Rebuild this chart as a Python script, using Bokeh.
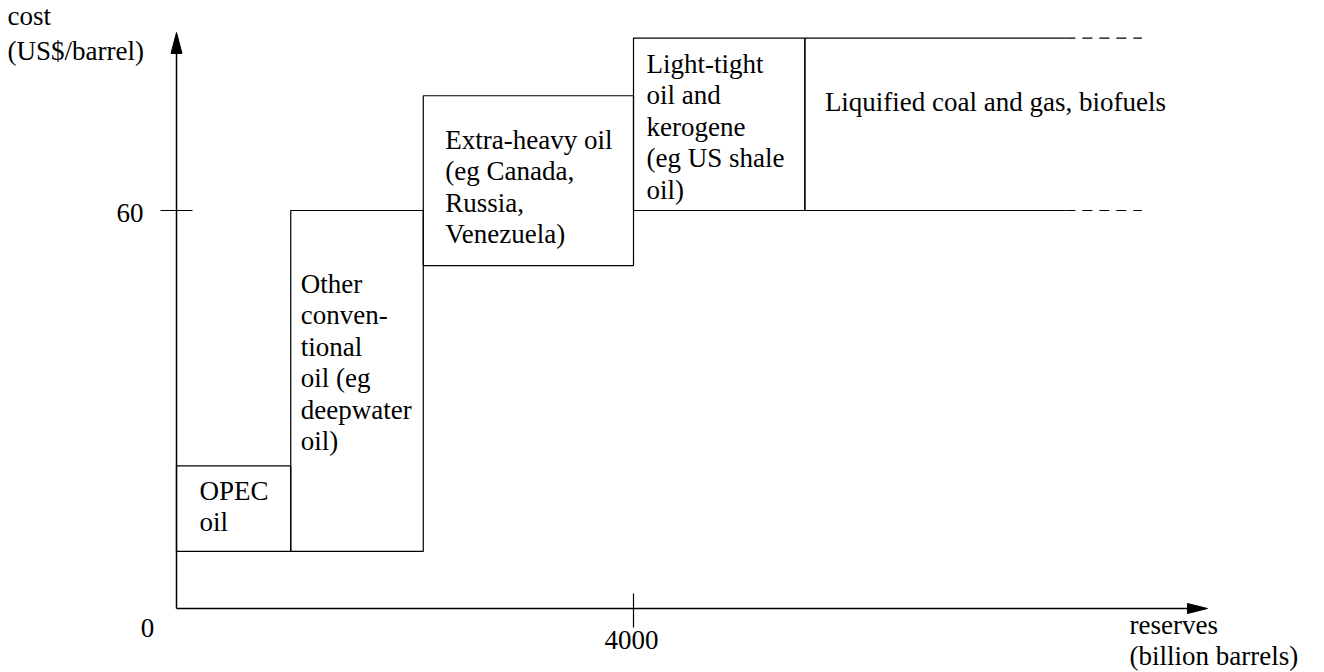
from bokeh.plotting import figure
from bokeh.models import Range1d, ColumnDataSource
from bokeh.core.properties import value
from bokeh.embed import file_html
from bokeh.resources import INLINE

# ---------------- data ----------------
categories = ["OPEC oil", "Other conventional oil", "Extra-heavy oil",
              "Light-tight oil and kerogene", "Liquified coal and gas, biofuels"]
reserve_start = [0, 1000, 2160, 4000, 5500]      # billion barrels
reserve_end = [1000, 2160, 4000, 5500, 7780]     # last block is open-ended (solid part)
open_end = 8450                                  # dashed continuation of last block
cost_low = [8.6, 8.6, 51.7, 60, 60]              # US$/barrel
cost_high = [21.5, 60, 77.3, 86, 86]

label_lines = [
    ["OPEC", "oil"],
    ["Other", "conven-", "tional", "oil (eg", "deepwater", "oil)"],
    ["Extra-heavy oil", "(eg Canada,", "Russia,", "Venezuela)"],
    ["Light-tight", "oil and", "kerogene", "(eg US shale", "oil)"],
    ["Liquified coal and gas, biofuels"],
]

x_ticks = [4000]
x_tick_labels = ["4000"]
y_ticks = [60]
y_tick_labels = ["60"]
origin_label = "0"
x_title = ["reserves", "(billion barrels)"]
y_title = ["cost", "(US$/barrel)"]

# ---------------- layout ----------------
W, H = 1324, 672
OX, OY = 176, 608            # origin position on canvas (px)
SX = 457 / 4000              # px per billion barrels
SY = 398 / 60                # px per US$
xr = Range1d(-OX / SX, (W - OX) / SX)
yr = Range1d(-(H - OY) / SY, OY / SY)


def dx(px):
    return px / SX


def dy(px):
    return px / SY


FONT = value("Liberation Serif")
FS = "27px"
LINE = 31.5
FIX = -9.5   # baseline correction for text rendering

p = figure(width=W, height=H, x_range=xr, y_range=yr, output_backend="svg",
           toolbar_location=None, x_axis_type=None, y_axis_type=None,
           min_border=0)
p.outline_line_color = None
p.background_fill_color = "white"
p.border_fill_color = "white"

# closed blocks
n = len(categories) - 1
p.quad(left=reserve_start[:n], right=reserve_end[:n], bottom=cost_low[:n],
       top=cost_high[:n], fill_color=None, line_color="black", line_width=1.2)

# open-ended last block
s, e, lo, hi = reserve_start[-1], reserve_end[-1], cost_low[-1], cost_high[-1]
p.segment(x0=[s, s, s], y0=[lo, hi, lo], x1=[e, e, s], y1=[lo, hi, hi],
          line_color="black", line_width=1.2)
p.segment(x0=[e, e], y0=[lo, hi], x1=[open_end, open_end], y1=[lo, hi],
          line_color="black", line_width=1.2, line_dash="10 7")

# axes with arrows
x_tip = dx(1031)
y_tip = dy(576)
p.segment(x0=[0, 0], y0=[0, 0], x1=[x_tip - dx(12), 0], y1=[0, y_tip - dy(12)],
          line_color="black", line_width=1.5)
p.patches(xs=[[x_tip - dx(20), x_tip, x_tip - dx(20)],
              [-dx(5.5), 0, dx(5.5)]],
          ys=[[dy(5), 0, -dy(5)],
              [y_tip - dy(21), y_tip, y_tip - dy(21)]],
          fill_color="black", line_color="black", line_width=1)

# ticks
p.segment(x0=x_ticks, y0=[dy(15)] * len(x_ticks), x1=x_ticks, y1=[-dy(19)] * len(x_ticks),
          line_color="black", line_width=1.2)
p.segment(x0=[-dx(16)] * len(y_ticks), y0=y_ticks, x1=[dx(16)] * len(y_ticks), y1=y_ticks,
          line_color="black", line_width=1.2)

# tick labels
p.text(x=x_ticks, y=[0] * len(x_ticks), text=x_tick_labels, x_offset=-2, y_offset=41 + FIX,
       text_align="center", text_baseline="alphabetic", text_font=FONT,
       text_font_size=FS, text_color="black")
p.text(x=[0] * len(y_ticks), y=y_ticks, text=y_tick_labels, x_offset=-33, y_offset=11.7 + FIX,
       text_align="right", text_baseline="alphabetic", text_font=FONT,
       text_font_size=FS, text_color="black")
p.text(x=[0], y=[0], text=[origin_label], x_offset=-29, y_offset=29 + FIX,
       text_align="center", text_baseline="alphabetic", text_font=FONT,
       text_font_size=FS, text_color="black")

# axis titles
p.text(x=[0, 0], y=[y_tip, y_tip], text=y_title, x_offset=[-169, -169],
       y_offset=[-7.5 + FIX, 27.5 + FIX],
       text_align="left", text_baseline="alphabetic", text_font=FONT,
       text_font_size=FS, text_color="black")
p.text(x=[x_tip, x_tip], y=[0, 0], text=x_title, x_offset=[-78, -78],
       y_offset=[26 + FIX, 57 + FIX],
       text_align="left", text_baseline="alphabetic", text_font=FONT,
       text_font_size=FS, text_color="black")

# block labels
label_pad = [23, 10, 22, 13, 20]
label_first = [34.3, 82.7, 53.3, 35, 73.5]
lx, ly, lt, lxo, lyo = [], [], [], [], []
for i, lines in enumerate(label_lines):
    for j, t in enumerate(lines):
        lx.append(reserve_start[i])
        ly.append(cost_high[i])
        lt.append(t)
        lxo.append(label_pad[i])
        lyo.append(label_first[i] + j * LINE + FIX)
src = ColumnDataSource(dict(x=lx, y=ly, text=lt, xo=lxo, yo=lyo))
p.text(x="x", y="y", text="text", x_offset="xo", y_offset="yo", source=src,
       text_align="left", text_baseline="alphabetic", text_font=FONT,
       text_font_size=FS, text_color="black")

open("out.html", "w").write(file_html(p, INLINE))
